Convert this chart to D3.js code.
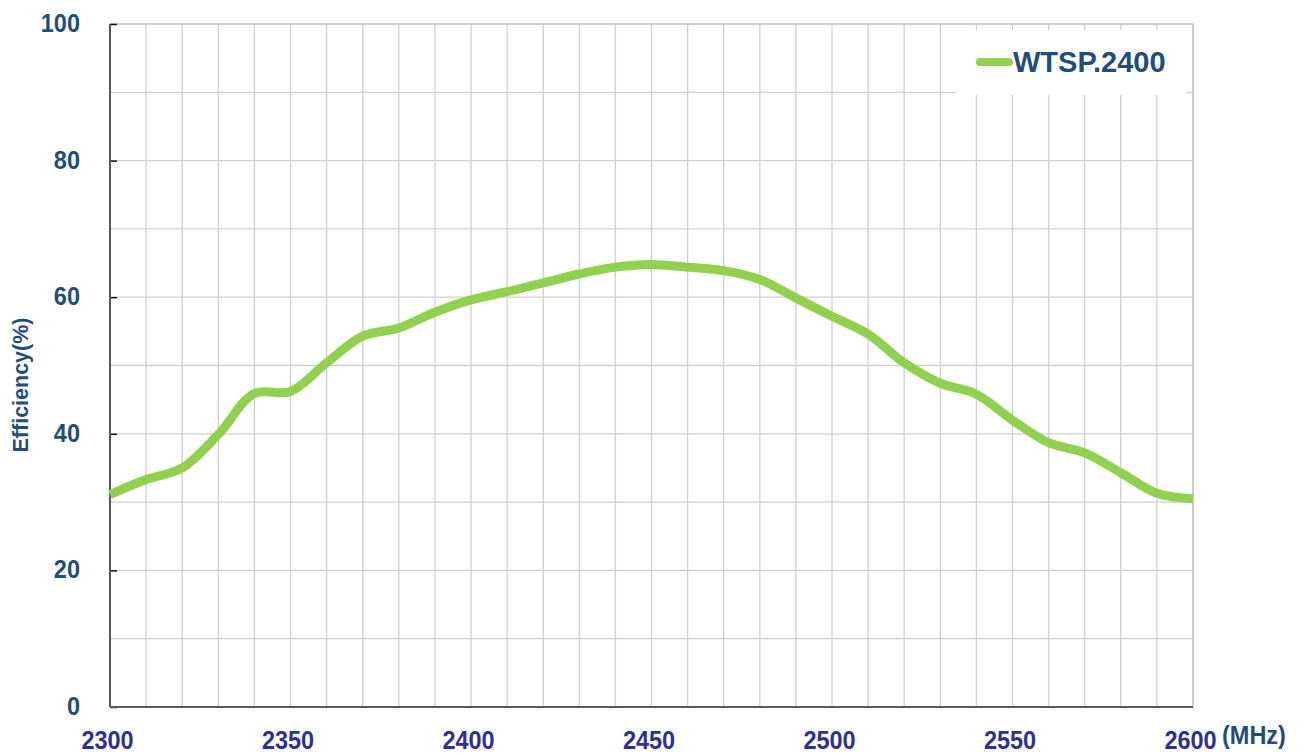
<!DOCTYPE html>
<html>
<head>
<meta charset="utf-8">
<script src="https://cdn.jsdelivr.net/npm/d3@7"></script>
<style>
  html, body { margin: 0; padding: 0; background: #fff; }
  svg { display: block; }
  text { font-family: "Liberation Sans", Arial, sans-serif; font-weight: bold; }
</style>
</head>
<body>
<svg id="chart" width="1305" height="753"></svg>
<script>
// ---- data ----
const frequencies = [2300, 2310, 2320, 2330, 2340, 2350, 2360, 2370, 2380, 2390, 2400,
  2410, 2420, 2430, 2440, 2450, 2460, 2470, 2480, 2490, 2500,
  2510, 2520, 2530, 2540, 2550, 2560, 2570, 2580, 2590, 2600];
const efficiency = [31.1, 33.3, 35.0, 39.9, 45.9, 46.2, 50.4, 54.3, 55.5, 57.8, 59.6,
  60.8, 62.1, 63.4, 64.4, 64.8, 64.4, 63.9, 62.6, 59.9, 57.2,
  54.6, 50.4, 47.4, 45.8, 42.0, 38.7, 37.2, 34.3, 31.3, 30.5];
const seriesName = "WTSP.2400";
const xTicks = [2300, 2350, 2400, 2450, 2500, 2550, 2600];
const yTicks = [0, 20, 40, 60, 80, 100];
const xUnit = "(MHz)";
const yTitle = "Efficiency(%)";

// ---- layout ----
const svg = d3.select("#chart");
const L = 110, R = 1193, T = 24, B = 707;
const x = d3.scaleLinear().domain([2300, 2600]).range([L, R]);
const y = d3.scaleLinear().domain([0, 100]).range([B, T]);

const labelBlue = "#1f4e79";
const xLabelBlue = "#2e3192";
const lineGreen = "#92d050";

// gridlines
const grid = svg.append("g");
grid.selectAll("line.v").data(d3.range(2310, 2600, 10)).join("line")
  .attr("x1", d => x(d)).attr("x2", d => x(d)).attr("y1", T).attr("y2", B)
  .attr("stroke", "#cfcfcf").attr("stroke-width", 1.3);
grid.selectAll("line.h").data(d3.range(10, 100, 10)).join("line")
  .attr("x1", L).attr("x2", R).attr("y1", d => y(d)).attr("y2", d => y(d))
  .attr("stroke", "#cfcfcf").attr("stroke-width", 1.3);

// top & right border
svg.append("line").attr("x1", L).attr("x2", R).attr("y1", T).attr("y2", T)
  .attr("stroke", "#bdbdbd").attr("stroke-width", 1.5);
svg.append("line").attr("x1", R).attr("x2", R).attr("y1", T).attr("y2", B)
  .attr("stroke", "#bdbdbd").attr("stroke-width", 1.5);

// legend box (white, covering grid)
svg.append("rect").attr("x", 956).attr("y", 30).attr("width", 230).attr("height", 65)
  .attr("fill", "#fff");

// y axis (inner ticks)
const yAxis = d3.axisRight(y).tickValues(yTicks).tickSize(7).tickFormat("");
const gy = svg.append("g").attr("transform", `translate(${L},0)`).call(yAxis);
gy.select(".domain").remove();
gy.selectAll(".tick line").attr("stroke", "#111").attr("stroke-width", 1.5);

// y labels
svg.append("g").selectAll("text").data(yTicks).join("text")
  .attr("transform", d => `translate(80,${y(d) + 8}) scale(1,1.12)`)
  .attr("text-anchor", "end").attr("fill", labelBlue)
  .style("font-size", "23.5px").text(d => d);

// x axis labels
const xAxis = d3.axisBottom(x).tickValues(xTicks).tickSize(0).tickFormat(d => d);
const gx = svg.append("g").attr("transform", `translate(0,${B})`).call(xAxis);
gx.select(".domain").remove();
gx.selectAll(".tick text")
  .attr("y", 0).attr("dy", 0)
  .attr("transform", "translate(-3,42) scale(1,1.12)")
  .attr("fill", xLabelBlue)
  .style("font-size", "23.5px")
  .style("font-family", "'Liberation Sans', Arial, sans-serif")
  .style("font-weight", "bold");

// left & bottom axis lines
svg.append("line").attr("x1", L).attr("x2", L).attr("y1", T).attr("y2", B)
  .attr("stroke", "#595959").attr("stroke-width", 2);
svg.append("line").attr("x1", L).attr("x2", R).attr("y1", B).attr("y2", B)
  .attr("stroke", "#595959").attr("stroke-width", 2);

// unit label
svg.append("text").attr("transform", "translate(1222,744) scale(1,1.1)")
  .attr("fill", labelBlue).style("font-size", "23.5px").text(xUnit);

// y title
svg.append("text").attr("transform", "translate(28,385) rotate(-90)")
  .attr("text-anchor", "middle").attr("fill", labelBlue)
  .style("font-size", "21.5px").text(yTitle);

// data line
const line = d3.line()
  .x((d, i) => x(frequencies[i]))
  .y(d => y(d))
  .curve(d3.curveCatmullRom.alpha(0.5));
svg.append("path").datum(efficiency)
  .attr("d", line)
  .attr("fill", "none").attr("stroke", lineGreen)
  .attr("stroke-width", 9).attr("stroke-linejoin", "round");

// legend
svg.append("line").attr("x1", 980).attr("x2", 1009).attr("y1", 62).attr("y2", 62)
  .attr("stroke", lineGreen).attr("stroke-width", 8).attr("stroke-linecap", "round");
svg.append("text").attr("x", 1013).attr("y", 72)
  .attr("fill", labelBlue).style("font-size", "29px").text(seriesName);
</script>
</body>
</html>
